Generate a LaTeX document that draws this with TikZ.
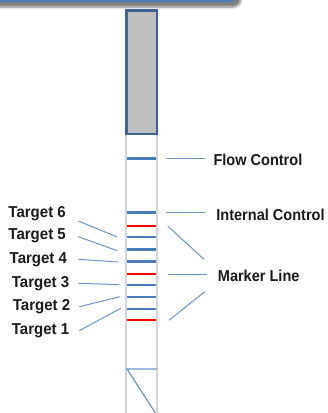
\documentclass[tikz,border=0pt]{standalone}
\usepackage{graphicx}
\usepackage{fontspec}
\setmainfont{Liberation Sans}
\usetikzlibrary{shadows.blur}
\definecolor{bandblue}{HTML}{4A7EBB}
\definecolor{lineblue}{HTML}{6A96CC}
\definecolor{rectborder}{HTML}{3C6296}
\definecolor{stripgrey}{HTML}{D4D4D4}
\definecolor{txt}{HTML}{1A1A1A}
\newcommand{\rtxt}[1]{\scalebox{0.92}[1]{#1}}
\newcommand{\ttxt}[1]{\scalebox{0.95}[1]{#1}}
\tikzset{
  blueband/.style={draw=bandblue, line width=2.7pt},
  redband/.style={draw=red, line width=2.7pt},
  pointer/.style={draw=lineblue, line width=1pt},
  rlabel/.style={anchor=west, inner sep=0pt, text=txt, font=\fontsize{15.8}{17}\selectfont\bfseries},
  tlabel/.style={anchor=west, inner sep=0pt, text=txt, font=\fontsize{15.8}{17}\selectfont\bfseries},
}
\begin{document}
\begin{tikzpicture}[x=1pt,y=-1pt]
\useasboundingbox (0,0) rectangle (328,413);
% top box (partly visible)
\draw[draw=bandblue, line width=2pt, fill=white, rounded corners=8pt,
      blur shadow={shadow xshift=4pt, shadow yshift=-6pt, shadow blur steps=8, shadow opacity=50}]
  (-20,-30) rectangle (237,1.2);
% strip
\draw[stripgrey, line width=2pt] (126.2,134) -- (126.2,413);
\draw[stripgrey, line width=2pt] (157.3,134) -- (157.3,413);
% grey sample pad
\draw[draw=rectborder, fill=black!25, line width=2.4pt] (126.3,10.5) rectangle (157.1,133.8);
% bands
\foreach \y/\s [count=\i] in {158.3/blueband,212.7/blueband,226/redband,237/blueband,249.3/blueband,261.3/blueband,274/redband,285/blueband,297/blueband,309/blueband,320/redband}{
  \coordinate (bL\i) at (127.2,\y);
  \coordinate (bR\i) at (156.3,\y);
  \draw[\s] (bL\i) -- (bR\i);
}
% bottom marks
\coordinate (bot1) at (127,369);
\coordinate (bot2) at (157,369);
\coordinate (bot3) at (156,414);
\draw[draw=lineblue, line width=1.2pt] (bot2) -- (bot1) -- (bot3);
% right labels
\node[rlabel] (flow) at (213.3,159.8) {\rtxt{Flow Control}};
\node[rlabel] (ic) at (216.2,215) {\rtxt{Internal Control}};
\node[rlabel] (ml) at (217.7,275.9) {\rtxt{Marker Line}};
\coordinate (f1) at (166,158.3); \coordinate (f2) at (205,158.3);
\coordinate (i1) at (166,212.7); \coordinate (i2) at (205,212.7);
\coordinate (m1a) at (167.7,226); \coordinate (m1b) at (204,259.3);
\coordinate (m2a) at (167.7,274); \coordinate (m2b) at (206.7,274);
\coordinate (m3a) at (169,320.3); \coordinate (m3b) at (204.7,291.7);
\draw[pointer] (f1) -- (f2);
\draw[pointer] (i1) -- (i2);
\draw[pointer] (m1a) -- (m1b);
\draw[pointer] (m2a) -- (m2b);
\draw[pointer] (m3a) -- (m3b);
% left labels
\node[tlabel] (t6) at (8.3,214) {\ttxt{Target 6}};
\node[tlabel] (t5) at (8.3,236) {\ttxt{Target 5}};
\node[tlabel] (t4) at (9.5,260.2) {\ttxt{Target 4}};
\node[tlabel] (t3) at (11.7,284) {\ttxt{Target 3}};
\node[tlabel] (t2) at (12.7,307) {\ttxt{Target 2}};
\node[tlabel] (t1) at (11.7,330.3) {\ttxt{Target 1}};
\coordinate (l6a) at (78.3,221); \coordinate (l6b) at (116.7,236.7);
\coordinate (l5a) at (78.3,236.7); \coordinate (l5b) at (117.3,250.7);
\coordinate (l4a) at (78.3,259.3); \coordinate (l4b) at (118.3,262);
\coordinate (l3a) at (78.3,283.3); \coordinate (l3b) at (119.3,284.7);
\coordinate (l2a) at (79.3,306.7); \coordinate (l2b) at (120,296.7);
\coordinate (l1a) at (79.3,330.7); \coordinate (l1b) at (120.7,308.3);
\foreach \n in {1,...,6}{\draw[pointer] (l\n a) -- (l\n b);}
\end{tikzpicture}
\end{document}
